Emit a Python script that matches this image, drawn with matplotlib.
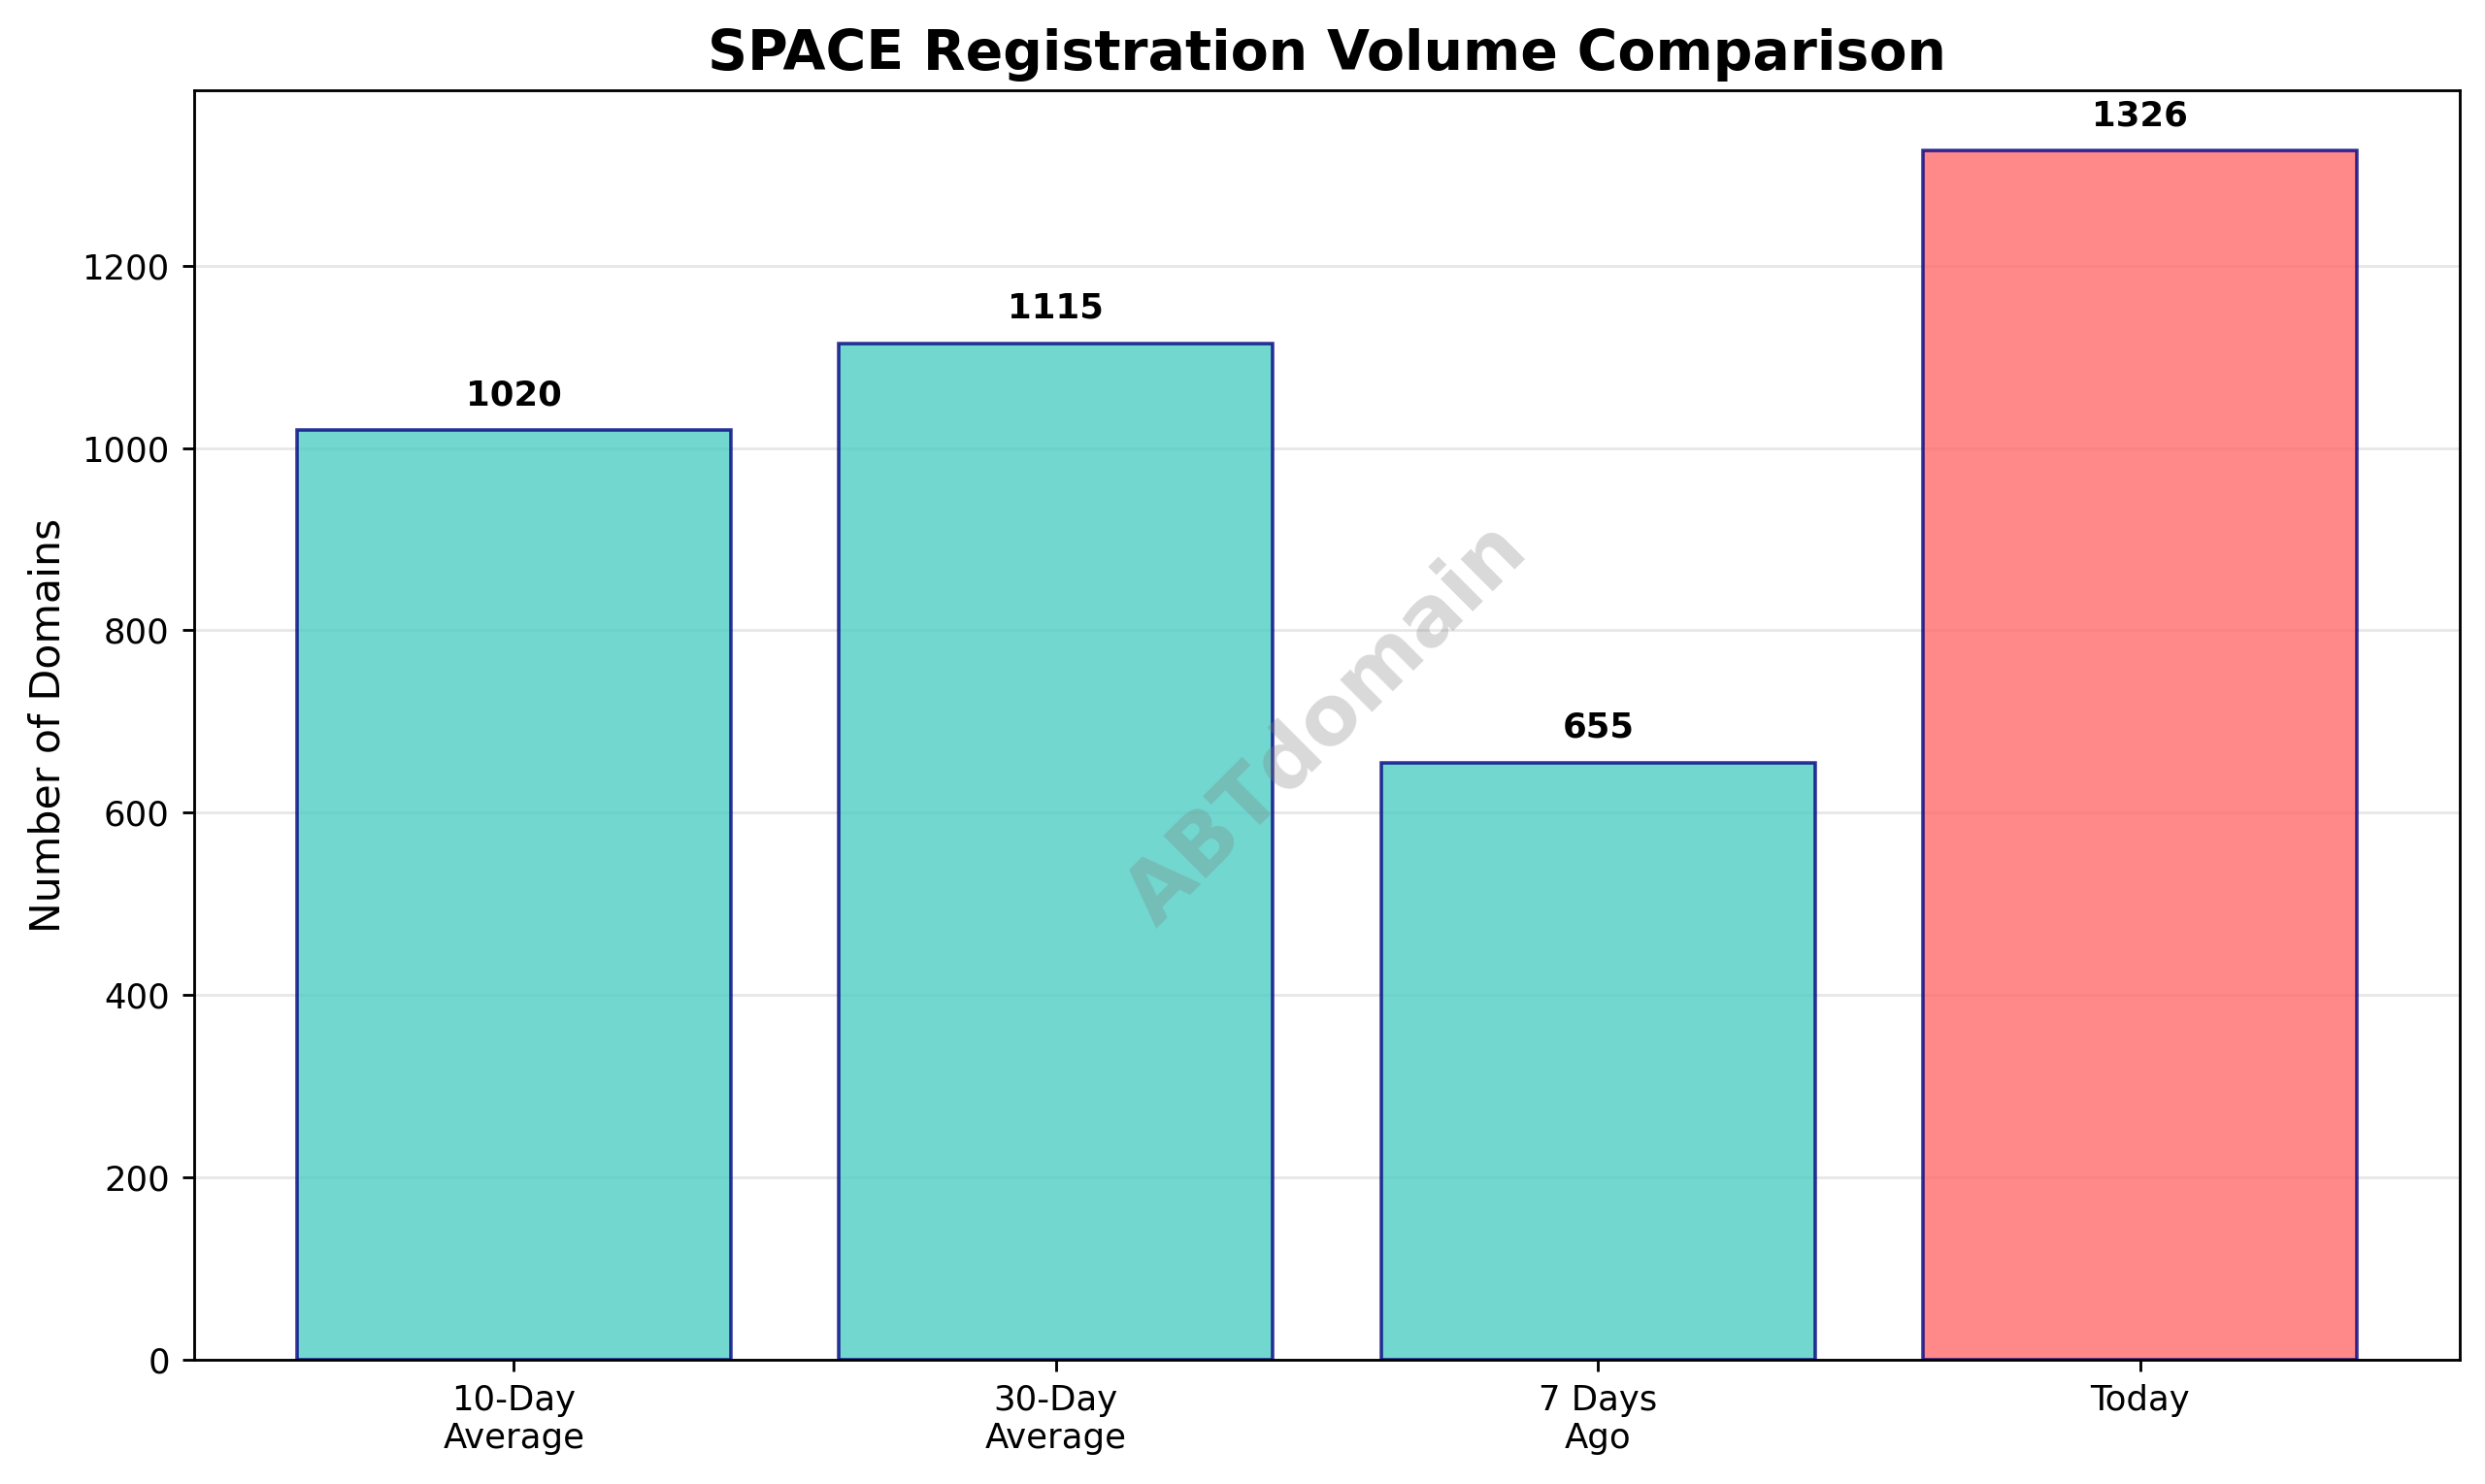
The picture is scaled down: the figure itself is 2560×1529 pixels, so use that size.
import matplotlib
matplotlib.use("Agg")
import matplotlib.pyplot as plt

categories = ["10-Day\nAverage", "30-Day\nAverage", "7 Days\nAgo", "Today"]
values = [1020, 1115, 655, 1326]
colors = ["#4ECDC4", "#4ECDC4", "#4ECDC4", "#FF6B6B"]

fig, ax = plt.subplots(figsize=(10, 5.973), dpi=256)
fig.subplots_adjust(left=0.078, right=0.99, top=0.939, bottom=0.084)
bars = ax.bar(categories, values, color=colors, alpha=0.8, edgecolor="navy", linewidth=1)
for b, v in zip(bars, values):
    ax.text(b.get_x() + b.get_width() / 2, v + 20, str(v), ha="center", va="bottom",
            fontsize=10, fontweight="bold")
ax.set_ylim(0, max(values) * 1.05)
ax.set_ylabel("Number of Domains", fontsize=12)
ax.set_title("SPACE Registration Volume Comparison", fontsize=16, fontweight="bold")
ax.grid(axis="y", alpha=0.3)
ax.set_axisbelow(True)
ax.text(0.5, 0.5, "ABTdomain", transform=ax.transAxes, fontsize=24, fontweight="bold",
        color="gray", alpha=0.3, rotation=45, ha="center", va="center")
fig.savefig("out.png")
